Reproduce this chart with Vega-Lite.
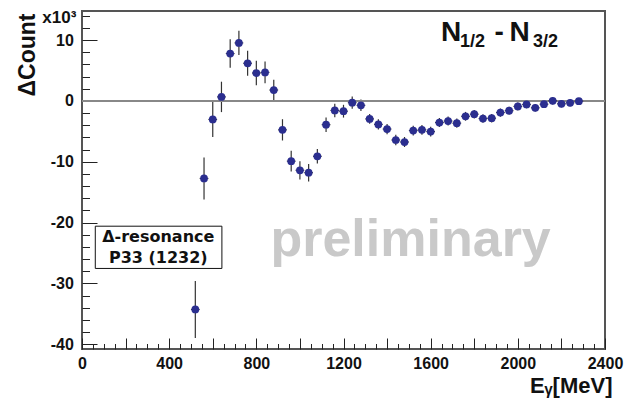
{
  "$schema": "https://vega.github.io/schema/vega-lite/v6.json",
  "width": 523,
  "height": 338,
  "autosize": {"type": "none"},
  "padding": {"left": 82, "top": 11, "right": 38, "bottom": 54},
  "background": "white",
  "config": {
    "view": {"stroke": "#555", "strokeWidth": 2},
    "axis": {"domain": false, "grid": false, "tickColor": "#222", "tickWidth": 1,
      "labelFont": "Liberation Sans", "labelFontWeight": "bold", "labelFontSize": 16, "labelColor": "#111",
      "labelOverlap": false, "labelFlush": false,
      "titleFont": "Liberation Sans", "titleFontWeight": "bold", "titleFontSize": 22, "titleColor": "#111"}
  },
  "data": {"values": [{}]},
  "datasets": {
    "pts": [
      {"E": 520, "c": -34.3, "err": 4.7, "xe": 20},
      {"E": 560, "c": -12.75, "err": 3.45, "xe": 20},
      {"E": 600, "c": -3.04, "err": 2.9, "xe": 20},
      {"E": 640, "c": 0.67, "err": 2.5, "xe": 20},
      {"E": 680, "c": 7.8, "err": 2.35, "xe": 20},
      {"E": 720, "c": 9.55, "err": 2.0, "xe": 20},
      {"E": 760, "c": 6.2, "err": 2.05, "xe": 20},
      {"E": 800, "c": 4.6, "err": 2.0, "xe": 20},
      {"E": 840, "c": 4.7, "err": 1.8, "xe": 20},
      {"E": 880, "c": 1.8, "err": 1.7, "xe": 20},
      {"E": 920, "c": -4.75, "err": 1.75, "xe": 20},
      {"E": 960, "c": -9.9, "err": 1.7, "xe": 20},
      {"E": 1000, "c": -11.4, "err": 1.5, "xe": 20},
      {"E": 1040, "c": -11.8, "err": 1.45, "xe": 20},
      {"E": 1080, "c": -9.1, "err": 1.2, "xe": 20},
      {"E": 1120, "c": -3.9, "err": 1.2, "xe": 20},
      {"E": 1160, "c": -1.56, "err": 1.1, "xe": 20},
      {"E": 1200, "c": -1.68, "err": 1.05, "xe": 20},
      {"E": 1240, "c": -0.28, "err": 1.0, "xe": 20},
      {"E": 1280, "c": -0.72, "err": 0.95, "xe": 20},
      {"E": 1320, "c": -2.95, "err": 0.8, "xe": 20},
      {"E": 1360, "c": -3.85, "err": 0.85, "xe": 20},
      {"E": 1400, "c": -4.62, "err": 0.85, "xe": 20},
      {"E": 1440, "c": -6.42, "err": 0.88, "xe": 20},
      {"E": 1480, "c": -6.75, "err": 0.82, "xe": 20},
      {"E": 1520, "c": -4.87, "err": 0.8, "xe": 20},
      {"E": 1560, "c": -4.75, "err": 0.8, "xe": 20},
      {"E": 1600, "c": -5.04, "err": 0.8, "xe": 20},
      {"E": 1640, "c": -3.55, "err": 0.75, "xe": 20},
      {"E": 1680, "c": -3.3, "err": 0.75, "xe": 20},
      {"E": 1720, "c": -3.65, "err": 0.75, "xe": 20},
      {"E": 1760, "c": -2.52, "err": 0.72, "xe": 20},
      {"E": 1800, "c": -2.17, "err": 0.7, "xe": 20},
      {"E": 1840, "c": -2.9, "err": 0.7, "xe": 20},
      {"E": 1880, "c": -2.83, "err": 0.7, "xe": 20},
      {"E": 1920, "c": -1.9, "err": 0.68, "xe": 20},
      {"E": 1960, "c": -1.6, "err": 0.66, "xe": 20},
      {"E": 2000, "c": -0.9, "err": 0.65, "xe": 20},
      {"E": 2040, "c": -0.58, "err": 0.64, "xe": 20},
      {"E": 2080, "c": -1.13, "err": 0.62, "xe": 20},
      {"E": 2120, "c": -0.53, "err": 0.6, "xe": 20},
      {"E": 2160, "c": 0.02, "err": 0.6, "xe": 20},
      {"E": 2200, "c": -0.47, "err": 0.58, "xe": 20},
      {"E": 2240, "c": -0.3, "err": 0.55, "xe": 20},
      {"E": 2280, "c": -0.03, "err": 0.5, "xe": 20}
    ]
  },
  "layer": [
    {
      "data": {"name": "pts"},
      "mark": {"type": "errorbar", "ticks": false, "color": "#333", "thickness": 1.2},
      "encoding": {
        "x": {"field": "E", "type": "quantitative", "title": "Eᵧ[MeV]", "scale": {"domain": [0, 2400], "nice": false, "zero": false},
          "axis": {
            "title": "Eᵧ[MeV]",
            "tickCount": 500,
            "values": [0, 50, 100, 150, 200, 250, 300, 350, 400, 450, 500, 550, 600, 650, 700, 750, 800, 850, 900, 950, 1000, 1050, 1100, 1150, 1200, 1250, 1300, 1350, 1400, 1450, 1500, 1550, 1600, 1650, 1700, 1750, 1800, 1850, 1900, 1950, 2000, 2050, 2100, 2150, 2200, 2250, 2300, 2350, 2400],
            "tickSize": {"condition": {"test": "datum.value % 200 === 0", "value": -11}, "value": -5.5},
            "labelPadding": 17,
            "labelExpr": "datum.value % 400 === 0 ? ('' + datum.value) : ''",
            "titleAnchor": "end", "titleAlign": "right", "titleBaseline": "alphabetic",
            "titleX": 530, "titleY": 43
          }
        },
        "y": {"field": "c", "type": "quantitative", "title": "ΔCount", "scale": {"domain": [-40.8, 14.8], "nice": false, "zero": false},
          "axis": {
            "title": "ΔCount",
            "tickCount": 500,
            "values": [-40, -38, -36, -34, -32, -30, -28, -26, -24, -22, -20, -18, -16, -14, -12, -10, -8, -6, -4, -2, 0, 2, 4, 6, 8, 10, 12, 14],
            "tickSize": {"condition": {"test": "datum.value % 10 === 0", "value": -15}, "value": -7.5},
            "labelPadding": 23.7,
            "labelExpr": "datum.value % 10 === 0 ? ('' + datum.value) : ''",
            "titleFontSize": 23,
            "titleAngle": 270, "titleAlign": "right", "titleBaseline": "alphabetic",
            "titleX": -48, "titleY": 2
          }
        },
        "yError": {"field": "err"}
      }
    },
    {
      "mark": {"type": "rule", "color": "#888", "strokeWidth": 2},
      "encoding": {"y": {"datum": 0, "type": "quantitative"}}
    },
    {
      "data": {"name": "pts"},
      "mark": {"type": "errorbar", "ticks": false, "color": "#333", "thickness": 1.2},
      "encoding": {
        "x": {"field": "E", "type": "quantitative", "title": "Eᵧ[MeV]"},
        "xError": {"field": "xe"},
        "y": {"field": "c", "type": "quantitative", "title": "ΔCount"}
      }
    },
    {
      "data": {"name": "pts"},
      "mark": {"type": "circle", "size": 60, "color": "#2b2e8f", "opacity": 1},
      "encoding": {
        "x": {"field": "E", "type": "quantitative", "title": "Eᵧ[MeV]"},
        "y": {"field": "c", "type": "quantitative", "title": "ΔCount"}
      }
    },
    {
      "mark": {"type": "rect", "fill": "white", "stroke": "#111", "strokeWidth": 1},
      "encoding": {"x": {"datum": 61}, "x2": {"datum": 642}, "y": {"datum": -20.6}, "y2": {"datum": -27.55}}
    },
    {
      "mark": {"type": "text", "font": "DejaVu Sans", "fontWeight": "bold", "fontSize": 16, "align": "center", "baseline": "alphabetic", "color": "#111", "text": "Δ-resonance"},
      "encoding": {"x": {"datum": 350}, "y": {"datum": -23.2}}
    },
    {
      "mark": {"type": "text", "font": "DejaVu Sans", "fontWeight": "bold", "fontSize": 16, "align": "center", "baseline": "alphabetic", "color": "#111", "text": "P33 (1232)"},
      "encoding": {"x": {"datum": 350}, "y": {"datum": -26.7}}
    },
    {
      "mark": {"type": "text", "font": "Liberation Sans", "fontWeight": "bold", "fontSize": 52, "align": "center", "baseline": "alphabetic", "color": "#c9c9c9", "text": "preliminary"},
      "encoding": {"x": {"datum": 1508}, "y": {"datum": -25.5}}
    },
    {
      "mark": {"type": "text", "font": "Liberation Sans", "fontWeight": "bold", "fontSize": 17, "align": "right", "baseline": "alphabetic", "color": "#111", "text": "x10³"},
      "encoding": {"x": {"datum": -26}, "y": {"datum": 12.75}}
    },
    {
      "mark": {"type": "text", "font": "Liberation Sans", "fontWeight": "bold", "fontSize": 28, "align": "left", "baseline": "alphabetic", "color": "#111", "text": "N"},
      "encoding": {"x": {"datum": 1647}, "y": {"datum": 9.88}}
    },
    {
      "mark": {"type": "text", "font": "Liberation Sans", "fontWeight": "bold", "fontSize": 18, "align": "left", "baseline": "alphabetic", "color": "#111", "text": "1/2"},
      "encoding": {"x": {"datum": 1735}, "y": {"datum": 8.85}}
    },
    {
      "mark": {"type": "text", "font": "Liberation Sans", "fontWeight": "bold", "fontSize": 28, "align": "left", "baseline": "alphabetic", "color": "#111", "text": "-"},
      "encoding": {"x": {"datum": 1893}, "y": {"datum": 9.88}}
    },
    {
      "mark": {"type": "text", "font": "Liberation Sans", "fontWeight": "bold", "fontSize": 28, "align": "left", "baseline": "alphabetic", "color": "#111", "text": "N"},
      "encoding": {"x": {"datum": 1962}, "y": {"datum": 9.88}}
    },
    {
      "mark": {"type": "text", "font": "Liberation Sans", "fontWeight": "bold", "fontSize": 18, "align": "left", "baseline": "alphabetic", "color": "#111", "text": "3/2"},
      "encoding": {"x": {"datum": 2070}, "y": {"datum": 8.85}}
    }
  ]
}
